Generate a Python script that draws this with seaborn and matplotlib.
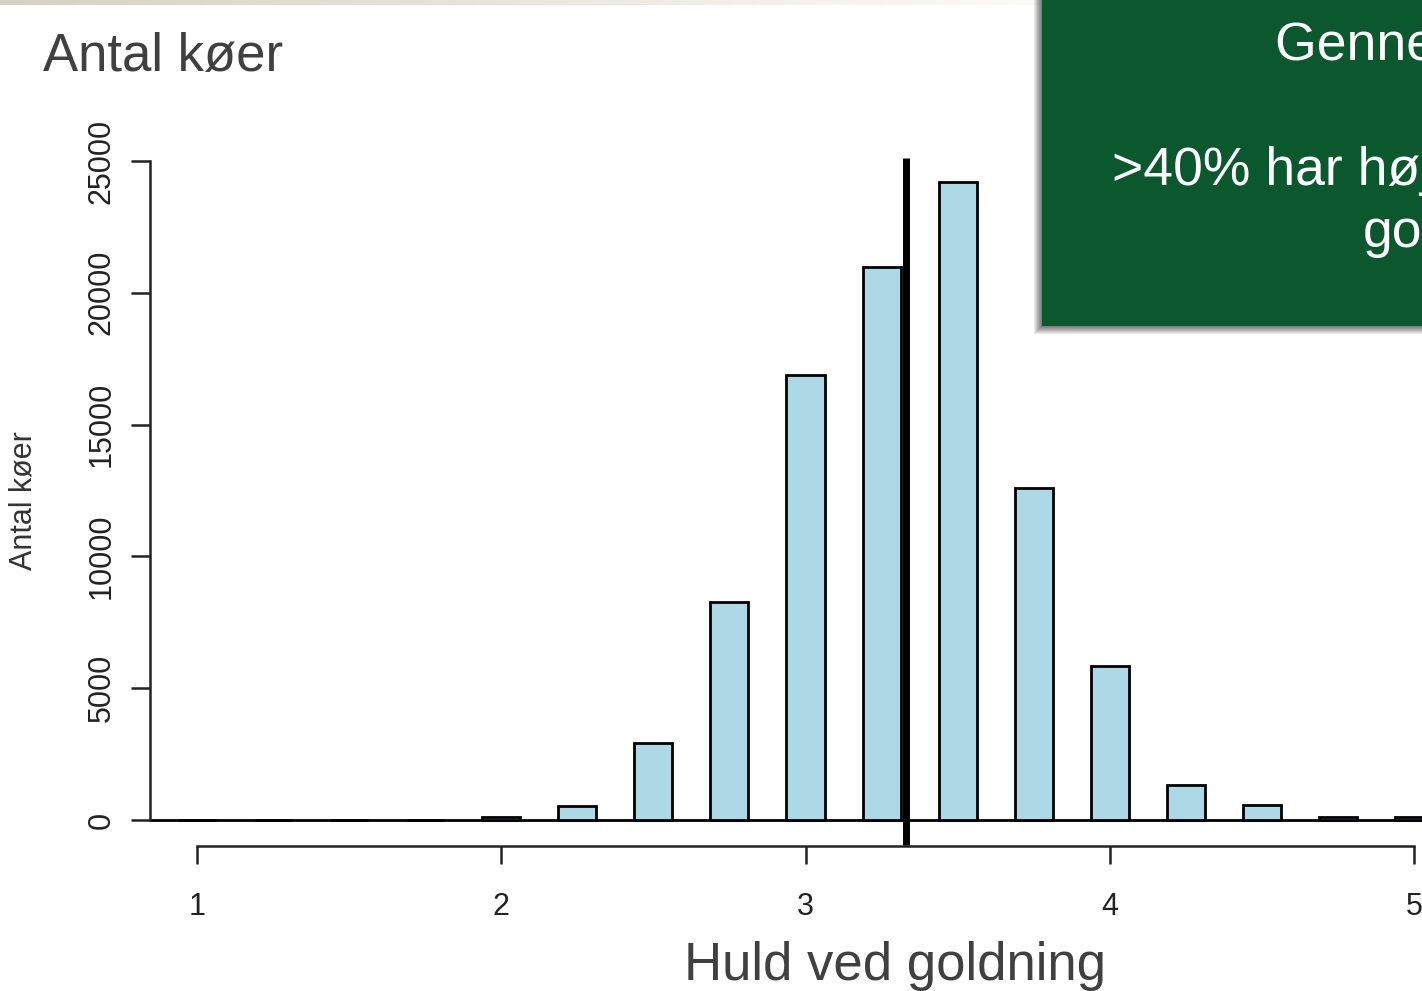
import numpy as np
import pandas as pd
import matplotlib
matplotlib.use("Agg")
import matplotlib.pyplot as plt
from matplotlib.patches import Rectangle
import seaborn as sns

# ---- data ----
huld_values = [1.0, 1.25, 1.5, 1.75, 2.0, 2.25, 2.5, 2.75, 3.0, 3.25, 3.5, 3.75, 4.0, 4.25, 4.5, 4.75, 5.0]
antal_koer = [0, 0, 0, 0, 100, 550, 2920, 8270, 16880, 20980, 24200, 12600, 5840, 1330, 570, 100, 100]
mean_huld = 3.33
y_ticks = [0, 5000, 10000, 15000, 20000, 25000]
x_ticks = [1, 2, 3, 4, 5]
title_text = "Antal køer"
ylabel_text = "Antal køer"
xlabel_text = "Huld ved goldning"
box_lines = ["Gennemsnit: 3,33", "", ">40% har højt huld ved", "goldning"]

df = pd.DataFrame({"huld": huld_values, "antal": antal_koer})

sns.set_style("white")
plt.rcParams["font.family"] = ["Liberation Sans", "DejaVu Sans"]

W, H = 1422, 991
fig = plt.figure(figsize=(W / 100, H / 100), dpi=100)

# axes geometry in pixels
px_per_x = 304.25
px_per_y = 659 / 25000
ax_left_px, ax_w_px = 150, 1350
ax_top_px, ax_bot_px = 150, 846
x0 = 1 - (197 - ax_left_px) / px_per_x
ax = fig.add_axes([ax_left_px / W, (H - ax_bot_px) / H, ax_w_px / W, (ax_bot_px - ax_top_px) / H])

sns.barplot(data=df, x="huld", y="antal", native_scale=True, width=0.5,
            color="#add8e6", saturation=1, edgecolor="black", linewidth=2,
            errorbar=None, ax=ax, zorder=3)

ax.set_xlim(x0, x0 + ax_w_px / px_per_x)
ax.set_ylim(-(ax_bot_px - 820) / px_per_y, (820 - ax_top_px) / px_per_y)

ax.axhline(0, color="black", lw=2, zorder=2)
ax.plot([mean_huld, mean_huld], [-950, 25120], color="black", lw=5,
        solid_capstyle="butt", zorder=4, clip_on=False)

for s in ["top", "right"]:
    ax.spines[s].set_visible(False)
for s in ["left", "bottom"]:
    ax.spines[s].set_color("#222222")
    ax.spines[s].set_linewidth(1.8)
ax.spines["left"].set_bounds(0, 25000)
ax.spines["bottom"].set_bounds(1, 5)
ax.set_yticks(y_ticks)
ax.set_xticks(x_ticks)
ax.set_yticklabels([str(v) for v in y_ticks], rotation=90, va="center")
ax.set_xticklabels([str(v) for v in x_ticks])
ax.tick_params(axis="y", length=14, width=1.8, color="#222222", pad=10,
               labelsize=22, labelcolor="#222222", left=True)
ax.tick_params(axis="x", length=13, width=1.8, color="#222222", pad=20,
               labelsize=22, labelcolor="#222222", bottom=True)
ax.set_xlabel("")
ax.set_ylabel("")

# texts
fig.text(43 / W, 1 - 71 / H, title_text, fontsize=38, color="#404040",
         ha="left", va="baseline")
fig.text(895 / W, 1 - 980 / H, xlabel_text, fontsize=38, color="#404040",
         ha="center", va="baseline")
fig.text(24 / W, 1 - 501 / H, ylabel_text, fontsize=22, color="#333333",
         rotation=90, ha="center", va="center")

# top beige stripe with gradient
grad_ax = fig.add_axes([0, 1 - 5 / H, 1, 5 / H])
grad_ax.axis("off")
g = np.linspace(0, 1, 400)
c0 = np.array([0.835, 0.824, 0.757])
c1 = np.array([1.0, 1.0, 1.0])
t = np.clip(g / 0.8, 0, 1)[:, None]
img = (c0 * (1 - t) + c1 * t)[None, :, :]
grad_ax.imshow(img, aspect="auto", extent=[0, 1, 0, 1])

# green box with shadow
bx, by_bottom = 1042, 326
for i in range(1, 9):
    fig.add_artist(Rectangle(((bx - i) / W, 1 - (by_bottom + i) / H),
                             (W - bx + i + 20) / W, (by_bottom + i + 20) / H,
                             transform=fig.transFigure, facecolor="black",
                             edgecolor="none", alpha=0.08, zorder=5))
fig.add_artist(Rectangle((bx / W, 1 - by_bottom / H), (W - bx + 20) / W, (by_bottom + 20) / H,
                         transform=fig.transFigure, facecolor="#0b572e",
                         edgecolor="none", zorder=6))
box_x = [1275, 0, 1112, 1363]
box_y = [60, 0, 185, 247]
for txt, xx, yy in zip(box_lines, box_x, box_y):
    if txt:
        fig.text(xx / W, 1 - yy / H, txt, fontsize=38.5, color="white",
                 ha="left", va="baseline", zorder=7)

fig.savefig("out.png", dpi=100)
